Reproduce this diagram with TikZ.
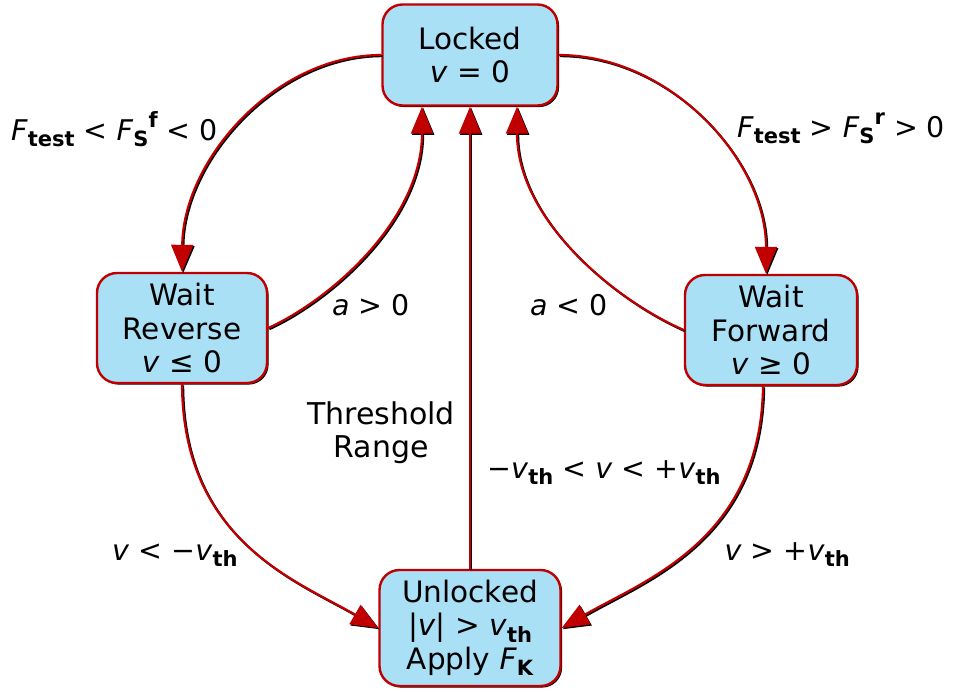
\documentclass[tikz,border=0pt]{standalone}
\usepackage{fontspec}
\setmainfont{DejaVu Sans}
\usetikzlibrary{arrows.meta,calc,shadows}
\definecolor{boxred}{RGB}{192,0,0}
\definecolor{boxblue}{RGB}{170,224,246}
\newcommand\mysub[1]{\raisebox{-0.22em}{\fontsize{21}{21}\selectfont\bfseries #1}}
\newcommand\mysup[1]{\raisebox{0.45em}{\fontsize{21}{21}\selectfont\bfseries #1}}
\begin{document}
\begin{tikzpicture}[x=1pt,y=-1pt,
  state/.style={draw=boxred, line width=2.4pt, fill=boxblue, rounded corners=20pt,
    inner sep=0pt, align=center,
    font=\fontsize{29.5}{33.5}\selectfont,
    drop shadow={shadow xshift=1.6pt, shadow yshift=-1.6pt, fill=black, opacity=1}},
  edge/.style={draw=boxred, line width=2.2pt,
    -{Triangle[length=27pt,width=22pt]},
    preaction={draw=black, line width=2pt, transform canvas={shift={(1.2pt,-1.2pt)}}}},
  lab/.style={inner sep=0pt, font=\fontsize{28.5}{33}\selectfont}]
\useasboundingbox[fill=white] (0,0) rectangle (955,691);
% states
\node[state, minimum width=175pt, minimum height=101pt] (L) at (470,55) {Locked\\\textit{v} = 0};
\node[state, minimum width=170pt, minimum height=110pt] (WR) at (182,328) {Wait\\Reverse\\\textit{v} ≤ 0};
\node[state, minimum width=172pt, minimum height=110pt] (WF) at (771,330) {Wait\\Forward\\\textit{v} ≥ 0};
\node[state, minimum width=181pt, minimum height=116pt] (U) at (470,628) {Unlocked\\|\textit{v}| > \textit{v}\mysub{th}\\Apply \textit{F}\mysub{K}};
% connectors
\draw[edge] (L.west) .. controls (275,55) and (183,160) .. (WR.north);
\draw[edge] (L.east) .. controls (670,55) and (766,160) .. ($(WF.north)+(-5,0)$);
\draw[edge] (WR.east) .. controls (330,300) and (422,220) .. ($(L.south)+(-48,0)$);
\draw[edge] (WF.west) .. controls (615,300) and (517,220) .. ($(L.south)+(47,0)$);
\draw[edge] (U.north) -- (L.south);
\draw[edge] (WR.south) .. controls (183,540) and (295,580) .. (U.west);
\draw[edge] ($(WF.south)+(-8,0)$) .. controls (761,540) and (645,580) .. (U.east);
% labels
\node[lab, anchor=base west] (tl) at (11,140) {\textit{F}\mysub{test} < \textit{F}\mysub{S}\mysup{f} < 0};
\node[lab, anchor=base west] (tr) at (737,137) {\textit{F}\mysub{test} > \textit{F}\mysub{S}\mysup{r} > 0};
\node[lab, anchor=base west] (ap) at (332,315) {\textit{a} > 0};
\node[lab, anchor=base west] (an) at (530,315) {\textit{a} < 0};
\node[lab, align=center, anchor=base, font=\fontsize{30}{33}\selectfont] (thr) at (381,457) {Threshold\\Range};
\node[lab, anchor=base west] (rng) at (487,478) {−\textit{v}\mysub{th} < \textit{v} < +\textit{v}\mysub{th}};
\node[lab, anchor=base west] (vl) at (112,560) {\textit{v} < −\textit{v}\mysub{th}};
\node[lab, anchor=base east] (vr) at (850,560) {\textit{v} > +\textit{v}\mysub{th}};
\end{tikzpicture}
\end{document}
